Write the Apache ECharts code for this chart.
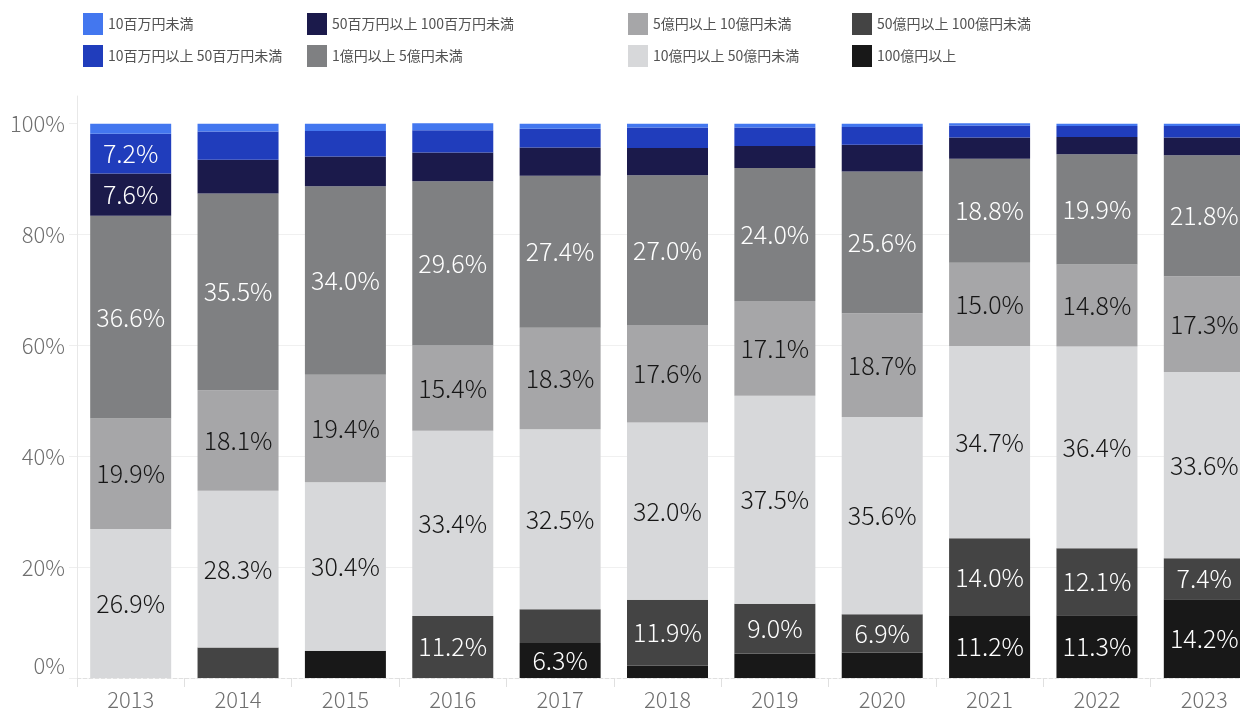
<!DOCTYPE html>
<html>
<head>
<meta charset="utf-8">
<script src="https://cdn.jsdelivr.net/npm/echarts@6/dist/echarts.min.js"></script>
<style>
html,body{margin:0;padding:0;background:#fff;}
#chart{width:1240px;height:710px;}
</style>
</head>
<body>
<div id="chart"></div>
<script>
const years = ['2013','2014','2015','2016','2017','2018','2019','2020','2021','2022','2023'];
const yTicks = [0, 20, 40, 60, 80, 100];

// stacked from bottom to top
const s100oku      = [0,    0,    4.9,  0,    6.3,  2.2,  4.4,  4.6,  11.2, 11.3, 14.2];
const s50to100oku  = [0,    5.5,  0,    11.2, 6.1,  11.9, 9.0,  6.9,  14.0, 12.1, 7.4];
const s10to50oku   = [26.9, 28.3, 30.4, 33.4, 32.5, 32.0, 37.5, 35.6, 34.7, 36.4, 33.6];
const s5to10oku    = [19.9, 18.1, 19.4, 15.4, 18.3, 17.6, 17.1, 18.7, 15.0, 14.8, 17.3];
const s1to5oku     = [36.6, 35.5, 34.0, 29.6, 27.4, 27.0, 24.0, 25.6, 18.8, 19.9, 21.8];
const s50to100man  = [7.6,  6.1,  5.4,  5.2,  5.1,  4.9,  4.0,  4.8,  3.8,  3.1,  3.2];
const s10to50man   = [7.2,  5.1,  4.6,  4.0,  3.4,  3.7,  3.3,  3.2,  2.2,  2.0,  2.1];
const sUnder10man  = [1.8,  1.4,  1.3,  1.3,  0.9,  0.7,  0.7,  0.6,  0.4,  0.4,  0.4];

const names = {
  under10man: '10百万円未満',
  m10to50: '10百万円以上 50百万円未満',
  m50to100: '50百万円以上 100百万円未満',
  o1to5: '1億円以上 5億円未満',
  o5to10: '5億円以上 10億円未満',
  o10to50: '10億円以上 50億円未満',
  o50to100: '50億円以上 100億円未満',
  o100: '100億円以上'
};

const FONT = '"Noto Sans CJK JP", "Noto Sans", sans-serif';
const LABEL_MIN = 6.2;

function mkSeries(name, data, color, labelColor) {
  return {
    name: name,
    type: 'bar',
    stack: 'total',
    barWidth: 81,
    data: data,
    itemStyle: { color: color },
    emphasis: { disabled: true },
    label: {
      show: true,
      position: 'inside',
      color: labelColor,
      fontSize: 25,
      fontWeight: 300,
      fontFamily: FONT,
      formatter: p => (p.value >= LABEL_MIN ? p.value.toFixed(1) + '%' : '')
    }
  };
}

const series = [
  mkSeries(names.o100, s100oku, '#181818', '#ffffff'),
  mkSeries(names.o50to100, s50to100oku, '#444444', '#ffffff'),
  mkSeries(names.o10to50, s10to50oku, '#d7d8da', '#161616'),
  mkSeries(names.o5to10, s5to10oku, '#a6a6a8', '#161616'),
  mkSeries(names.o1to5, s1to5oku, '#7f8082', '#ffffff'),
  mkSeries(names.m50to100, s50to100man, '#1b1a4b', '#ffffff'),
  mkSeries(names.m10to50, s10to50man, '#203dbc', '#ffffff'),
  mkSeries(names.under10man, sUnder10man, '#4377ef', '#ffffff')
];

const legendCols = [
  [names.under10man, names.m10to50],
  [names.m50to100, names.o1to5],
  [names.o5to10, names.o10to50],
  [names.o50to100, names.o100]
];
const legendLeft = [83, 307, 628, 852];

const legends = legendCols.map((col, i) => ({
  data: col,
  orient: 'vertical',
  left: legendLeft[i],
  top: 13,
  padding: 0,
  itemWidth: 20,
  itemHeight: 22,
  itemGap: 10,
  icon: 'rect',
  selectedMode: false,
  textStyle: { fontSize: 14, color: '#525252', fontFamily: FONT }
}));

const chart = echarts.init(document.getElementById('chart'), null, { renderer: 'canvas' });
chart.setOption({
  animation: false,
  backgroundColor: '#ffffff',
  legend: legends,
  grid: { left: 77, right: -18, top: 96, bottom: 32, containLabel: false, outerBoundsMode: 'none' },
  xAxis: {
    type: 'category',
    data: years,
    axisLine: { show: true, lineStyle: { color: '#e0e0e0', type: 'dashed', width: 1 } },
    axisTick: { show: true, length: 9, lineStyle: { color: '#e0e0e0' } },
    axisLabel: { fontSize: 22, color: '#6f6f6f', margin: 11, fontFamily: FONT, fontWeight: 300 }
  },
  yAxis: {
    type: 'value',
    min: 0,
    max: 105,
    interval: 20,
    axisLine: { show: true, lineStyle: { color: '#e8e8e8' } },
    axisTick: { show: true, length: 8, lineStyle: { color: '#eeeeee' }, customValues: yTicks },
    splitLine: { show: true, showMaxLine: false, showMinLine: false, lineStyle: { color: '#f0f0f0' } },
    axisLabel: {
      fontSize: 22,
      color: '#6f6f6f',
      margin: 12,
      fontFamily: FONT,
      fontWeight: 300,
      customValues: yTicks,
      formatter: v => (v > 100 ? '' : (v === 0 ? '{z|0%}' : v + '%')),
      rich: { z: { fontSize: 22, color: '#6f6f6f', fontFamily: FONT, fontWeight: 300, padding: [0, 0, 25, 0] } }
    }
  },
  series: series
});
</script>
</body>
</html>
